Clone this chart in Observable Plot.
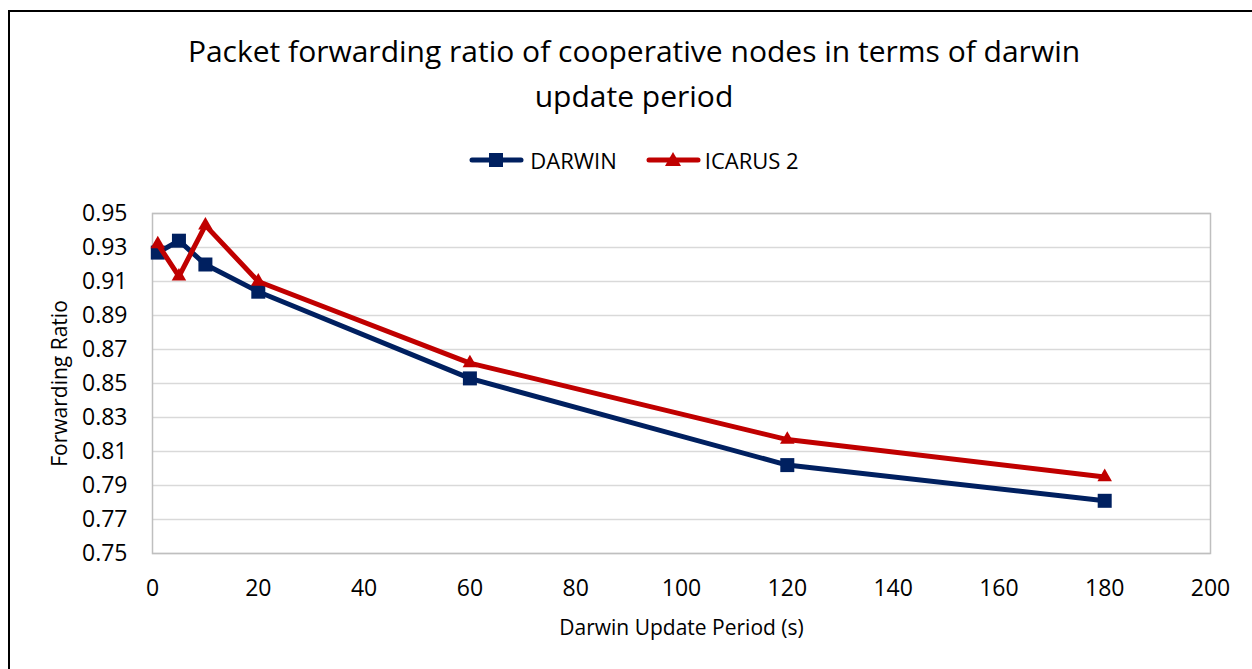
<!DOCTYPE html>
<html><head><meta charset="utf-8">
<script src="https://cdn.jsdelivr.net/npm/d3@7"></script>
<script src="https://cdn.jsdelivr.net/npm/@observablehq/plot@0.6"></script>
<style>
body{margin:0;background:#fff;font-family:"Open Sans",sans-serif;}
#page{position:relative;width:1252px;height:669px;overflow:hidden;background:#fff;}
#border{position:absolute;left:8px;top:10px;width:1280px;height:700px;border:2px solid #000;box-sizing:border-box;}
#title{position:absolute;left:0;top:28px;width:1268px;text-align:center;font-size:30px;line-height:45px;color:#000;}
#legend{position:absolute;left:0;top:145px;width:1268px;display:flex;justify-content:center;align-items:center;font-size:22px;color:#000;height:30px;}
.item{display:flex;align-items:center;}
#chart{position:absolute;left:0;top:190px;}
</style></head>
<body><div id="page"><div id="border"></div><div id="title"></div><div id="legend"></div><div id="chart"></div></div>
<script>
const titleLines = ["Packet forwarding ratio of cooperative nodes in terms of darwin", "update period"];
const xLabel = "Darwin Update Period (s)";
const yLabel = "Forwarding Ratio";
const periods = [1, 5, 10, 20, 60, 120, 180];
const darwin = [0.927, 0.934, 0.920, 0.904, 0.853, 0.802, 0.781];
const icarus = [0.932, 0.913, 0.943, 0.910, 0.862, 0.817, 0.795];
const seriesNames = ["DARWIN", "ICARUS 2"];
const seriesColors = ["#002060", "#C00000"];
const seriesSymbols = ["square", "triangle"];
const xTicks = [0, 20, 40, 60, 80, 100, 120, 140, 160, 180, 200];
const yTicks = [0.75, 0.77, 0.79, 0.81, 0.83, 0.85, 0.87, 0.89, 0.91, 0.93, 0.95];

document.getElementById("title").innerHTML = titleLines.map(t => `<div>${t}</div>`).join("");

const legend = document.getElementById("legend");
seriesNames.forEach((name, i) => {
  const item = document.createElement("div");
  item.className = "item";
  item.style.marginRight = i === 0 ? "29px" : "0";
  const sym = seriesSymbols[i] === "square"
    ? `<rect x="20" y="5" width="14" height="14" fill="${seriesColors[i]}"/>`
    : `<path d="M27,4 L35,18 L19,18 Z" fill="${seriesColors[i]}"/>`;
  item.innerHTML = `<svg width="55" height="24" style="margin-right:${i===0?6:4}px"><line x1="3" y1="12" x2="52" y2="12" stroke="${seriesColors[i]}" stroke-width="5" stroke-linecap="round"/>${sym}</svg><span>${name}</span>`;
  legend.appendChild(item);
});

const rowsD = periods.map((p, i) => ({x: p, y: darwin[i], series: seriesNames[0]}));
const rowsI = periods.map((p, i) => ({x: p, y: icarus[i], series: seriesNames[1]}));

const chart = Plot.plot({
  width: 1252,
  height: 479,
  marginLeft: 152,
  marginRight: 42,
  marginTop: 23,
  marginBottom: 116,
  style: {fontFamily: "'Open Sans', sans-serif", background: "transparent", color: "#000"},
  x: {domain: [0, 200]},
  y: {domain: [0.75, 0.95]},
  color: {domain: seriesNames, range: seriesColors},
  symbol: {domain: seriesNames, range: seriesSymbols},
  marks: [
    Plot.ruleY(yTicks, {stroke: "#d9d9d9", strokeWidth: 1.5}),
    Plot.frame({stroke: "#bfbfbf", strokeWidth: 1.5}),
    Plot.axisY({ticks: yTicks, tickSize: 0, tickPadding: 25, tickFormat: d3.format(".2f"), fontSize: 23, label: null}),
    Plot.axisX({ticks: xTicks, tickSize: 0, tickPadding: 26, fontSize: 23, label: null}),
    Plot.line(rowsD, {x: "x", y: "y", stroke: "series", strokeWidth: 5}),
    Plot.dot(rowsD, {x: "x", y: "y", fill: "series", symbol: "series", r: 7.9}),
    Plot.line(rowsI, {x: "x", y: "y", stroke: "series", strokeWidth: 5}),
    Plot.dot(rowsI, {x: "x", y: "y", fill: "series", symbol: "series", r: 5.4}),
    Plot.text([xLabel], {text: d => d, frameAnchor: "bottom", dy: 75, fontSize: 21, lineAnchor: "middle"}),
    Plot.text([yLabel], {text: d => d, frameAnchor: "left", dx: -92, rotate: -90, fontSize: 21, textAnchor: "middle", lineAnchor: "middle"})
  ]
});
document.getElementById("chart").appendChild(chart);
</script></body></html>
